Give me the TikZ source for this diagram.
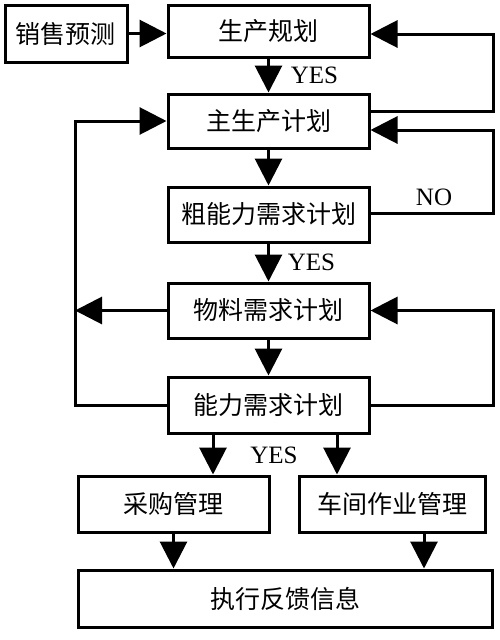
\documentclass[tikz,border=0pt]{standalone}
\usepackage{fontspec}
\setmainfont{Liberation Serif}
\newfontfamily\cjk{Noto Sans CJK SC}
\usetikzlibrary{arrows.meta}

\begin{document}
\begin{tikzpicture}[x=1pt,y=-1pt,
  box/.style={draw,line width=3pt,inner sep=0pt,font=\cjk\fontsize{25}{25}\selectfont},
  arr/.style={line width=3pt,-{Triangle[length=27pt,width=27pt]}},
  lbl/.style={font=\fontsize{25}{25}\selectfont}]
 \useasboundingbox (0,0) rectangle (500,640);
 \def\w{201}
 \def\cx{268.5}
 % main column
 \foreach \n / \y / \h / \t in {plan/31/52/生产规划, mps/121/54/主生产计划, rccp/214.5/55/粗能力需求计划, mrp/310.5/55/物料需求计划, crp/405/56/能力需求计划}
  {
    \node[box,minimum width=\w,minimum height=\h] (\n) at (\cx,\y) {\t};
  }
 \node[box,minimum width=122,minimum height=57] (sales) at (66,33.5) {销售预测};
 \node[box,minimum width=191,minimum height=56] (buy) at (173.5,504) {采购管理};
 \node[box,minimum width=186,minimum height=56] (shop) at (392,504) {车间作业管理};
 \node[box,minimum width=414,minimum height=57] (fb) at (285,598.5) {执行反馈信息};
 \coordinate (lft) at (75,0);
 \coordinate (rgt) at (493,0);

 \draw[arr] (sales.east) -- (sales.east -| plan.west);
 \foreach \a / \b in {plan/mps, mps/rccp, rccp/mrp, mrp/crp}
  {
    \draw[arr] (\a) -- (\b);
  }
 % loops on the right
 \draw[arr] ([yshift=10pt]mps.east) -- ([yshift=10pt]mps.east -| rgt) |- ([yshift=-3pt]plan.east);
 \draw[arr] ([yshift=1pt]rccp.east) -- ([yshift=1pt]rccp.east -| rgt) |- ([yshift=-9pt]mps.east);
 \draw[arr] (crp.east) -- (crp.east -| rgt) |- (mrp.east);
 % loops on the left
 \draw[arr] (crp.west) -- (crp.west -| lft) |- (mps.west);
 \draw[arr] (mrp.west) -- (mrp.west -| lft);
 % lower part
 \draw[arr] ([xshift=-55.5pt]crp.south) -- ([xshift=-55.5pt]crp.south |- buy.north);
 \draw[arr] ([xshift=68.5pt]crp.south) -- ([xshift=68.5pt]crp.south |- shop.north);
 \draw[arr] (buy.south) -- (buy.south |- fb.north);
 \draw[arr] ([xshift=32pt]shop.south) -- ([xshift=32pt]shop.south |- fb.north);

 \node[lbl] (yes1) at (314.5,75) {YES};
 \node[lbl] (yes2) at (311.5,262) {YES};
 \node[lbl] (yes3) at (274,455) {YES};
 \node[lbl] (no) at (434,197) {NO};
\end{tikzpicture}
\end{document}
